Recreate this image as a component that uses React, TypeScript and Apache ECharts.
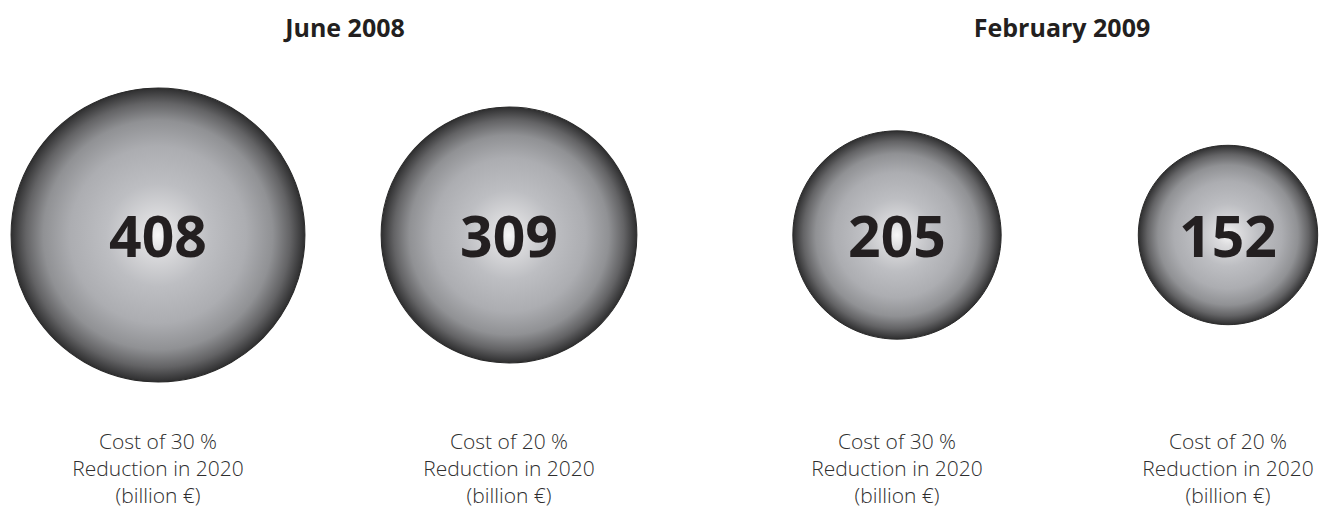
import React, { useEffect, useRef } from "react";
import * as echarts from "echarts";

// ---- data ----
const periods: string[] = ["June 2008", "February 2009"];
const categories: string[] = [
  "Cost of 30 %\nReduction in 2020\n(billion €)",
  "Cost of 20 %\nReduction in 2020\n(billion €)",
  "Cost of 30 %\nReduction in 2020\n(billion €)",
  "Cost of 20 %\nReduction in 2020\n(billion €)",
];
const values: number[] = [408, 309, 205, 152];

// ---- layout ----
const centersX = [158, 509, 897, 1228];
const titleX = [340, 1057];
const gridW = 160;
const sizeK = 14.55;

const sphere = {
  type: "radial",
  x: 0.5,
  y: 0.5,
  r: 0.5,
  colorStops: [
    { offset: 0, color: "#f7f7f7" },
    { offset: 0.12, color: "#dcdcde" },
    { offset: 0.35, color: "#bdbec2" },
    { offset: 0.6, color: "#acadb1" },
    { offset: 0.78, color: "#909194" },
    { offset: 0.9, color: "#636365" },
    { offset: 1, color: "#2e2e2f" },
  ],
};

export default function App() {
  const ref = useRef<HTMLDivElement>(null);
  useEffect(() => {
    if (!ref.current) return;
    const chart = echarts.init(ref.current, undefined, { renderer: "svg" });
    const grids = centersX.map((cx) => ({
      left: cx - gridW / 2,
      width: gridW,
      top: 45,
      height: 380,
    }));
    const xAxes = categories.map((c, i) => ({
      type: "category",
      gridIndex: i,
      data: [c],
      axisLine: { show: false },
      axisTick: { show: false },
      splitLine: { show: false },
      axisLabel: {
        margin: 2,
        fontFamily: "Open Sans",
        fontWeight: 300,
        fontSize: 21,
        lineHeight: 27,
        color: "#2e2e2e",
        align: "center",
      },
    }));
    const yAxes = categories.map((_, i) => ({
      type: "value",
      gridIndex: i,
      min: -1,
      max: 1,
      show: false,
    }));
    const series = values.map((v, i) => ({
      type: "scatter",
      xAxisIndex: i,
      yAxisIndex: i,
      clip: false,
      data: [[categories[i], 0, v]],
      symbolSize: (d: any) => sizeK * Math.sqrt(d[2]),
      itemStyle: {
        color: sphere,
        borderColor: "#2a2a2a",
        borderWidth: 1,
        opacity: 1,
      },
      label: {
        show: true,
        position: "inside",
        formatter: (p: any) => String(p.data[2]),
        fontFamily: "Open Sans",
        fontWeight: "bold",
        fontSize: 57,
        color: "#231f20",
      },
      emphasis: { disabled: true },
    }));
    chart.setOption({
      animation: false,
      backgroundColor: "#ffffff",
      title: periods.map((p, i) => ({
        text: p,
        left: titleX[i],
        top: 9,
        textAlign: "center",
        textStyle: {
          fontFamily: "Open Sans",
          fontWeight: "bold",
          fontSize: 25,
          color: "#231f20",
        },
      })),
      grid: grids,
      xAxis: xAxes,
      yAxis: yAxes,
      series,
    });
    return () => chart.dispose();
  }, []);
  return (
    <div
      ref={ref}
      style={{ position: "fixed", left: 0, top: 0, width: 1320, height: 508 }}
    />
  );
}
